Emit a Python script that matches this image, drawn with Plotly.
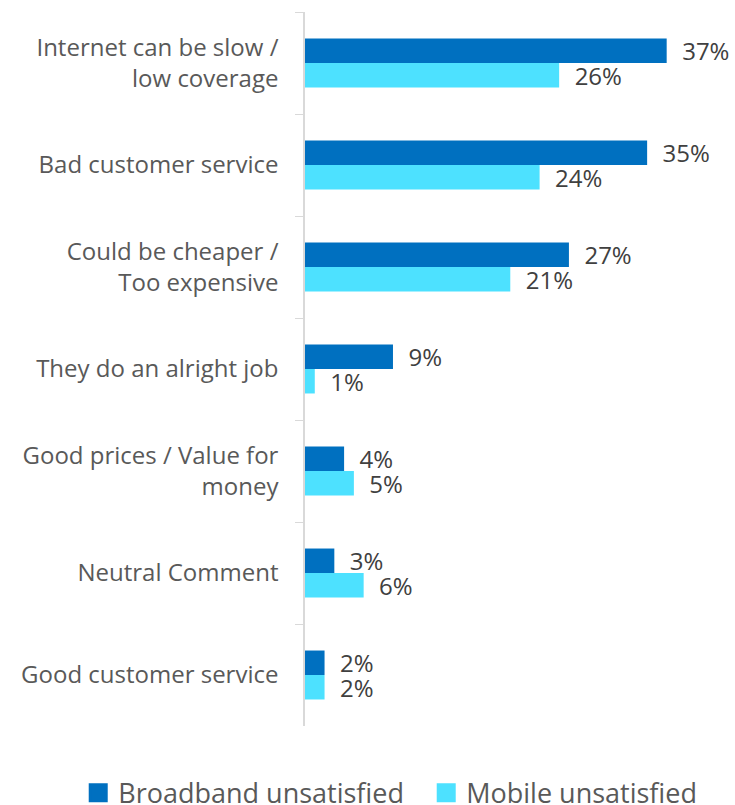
import plotly.graph_objects as go

# Reasons given by unsatisfied customers (share of respondents, %)
categories = [
    "Internet can be slow /<br>low coverage",
    "Bad customer service",
    "Could be cheaper /<br>Too expensive",
    "They do an alright job",
    "Good prices / Value for<br>money",
    "Neutral Comment",
    "Good customer service",
]
broadband = [37, 35, 27, 9, 4, 3, 2]
mobile = [26, 24, 21, 1, 5, 6, 2]

series = [
    ("Broadband unsatisfied", broadband, "#0070C0"),
    ("Mobile unsatisfied", mobile, "#4DE1FF"),
]

fig = go.Figure()
for name, vals, color in series:
    fig.add_trace(go.Bar(
        y=categories,
        x=vals,
        name=name,
        orientation="h",
        marker=dict(color=color, line=dict(width=0)),
        text=[f"  {v}%" for v in vals],
        textposition="outside",
        constraintext="none",
        cliponaxis=False,
        textfont=dict(family="Open Sans", size=24, color="#404040"),
        hoverinfo="skip",
        showlegend=False,
    ))

# Legend entries with larger square swatches
for name, _, color in series:
    fig.add_trace(go.Scatter(
        x=[None],
        y=[None],
        mode="markers",
        name=name,
        marker=dict(symbol="square", size=16, color=color,
                    line=dict(width=3, color=color)),
        showlegend=True,
    ))

fig.update_layout(
    width=735,
    height=805,
    margin=dict(l=305, r=39, t=12, b=79, autoexpand=False),
    barmode="group",
    bargap=0.52,
    bargroupgap=0,
    plot_bgcolor="white",
    paper_bgcolor="white",
    font=dict(family="Open Sans", color="#595959"),
    xaxis=dict(
        range=[0, 40],
        visible=False,
        showgrid=False,
        zeroline=False,
    ),
    yaxis=dict(
        autorange="reversed",
        tickson="boundaries",
        ticks="outside",
        ticklen=8,
        tickcolor="#D9D9D9",
        showline=True,
        linecolor="#D9D9D9",
        linewidth=1.5,
        showgrid=False,
        ticklabelstandoff=20,
        tickfont=dict(family="Open Sans", size=24, color="#595959"),
    ),
    legend=dict(
        orientation="h",
        x=-0.58,
        xanchor="left",
        y=-0.094,
        yanchor="middle",
        font=dict(family="Open Sans", size=27, color="#595959"),
        itemsizing="trace",
        entrywidth=303,
        entrywidthmode="pixels",
        traceorder="normal",
    ),
)

fig.write_html("out.html")
